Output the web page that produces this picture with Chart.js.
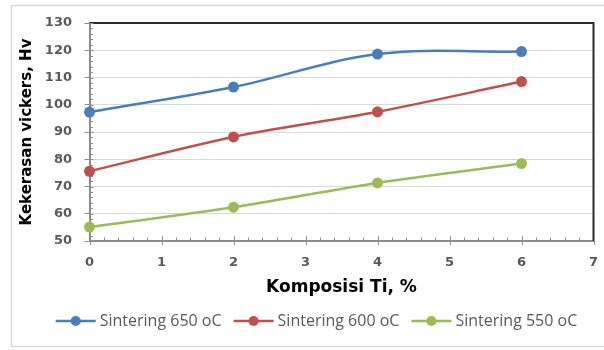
<!DOCTYPE html>
<html><head><meta charset="utf-8">
<script src="https://cdn.jsdelivr.net/npm/chart.js@4.4.1/dist/chart.umd.min.js"></script>
<style>html,body{margin:0;padding:0;background:#fff}canvas{display:block}</style>
</head><body>
<canvas id="c" width="604" height="350"></canvas>
<script>
const komposisiTi = [0, 2, 4, 6];
const sintering650 = [97.3, 106.5, 118.6, 119.5];
const sintering600 = [75.6, 88.2, 97.4, 108.5];
const sintering550 = [55.1, 62.4, 71.3, 78.4];
const seriesLabels = ['Sintering 650 oC', 'Sintering 600 oC', 'Sintering 550 oC'];
const seriesColors = ['#4A7EBB', '#C0504D', '#9BBB59'];
const xTickValues = [0, 1, 2, 3, 4, 5, 6, 7];
const yTickValues = [50, 60, 70, 80, 90, 100, 110, 120, 130];
const xTitle = 'Komposisi Ti, %';
const yTitle = 'Kekerasan vickers, Hv';

const seriesValues = [sintering650, sintering600, sintering550];

const decor = {
  id: 'decor',
  beforeDraw(chart) {
    const ctx = chart.ctx;
    ctx.save();
    ctx.fillStyle = '#fff';
    ctx.fillRect(0, 0, chart.width, chart.height);
    ctx.strokeStyle = '#d9d9d9';
    ctx.lineWidth = 1.5;
    ctx.strokeRect(11.5, 5.5, 640, 341);
    ctx.restore();
  },
  beforeDatasetsDraw(chart) {
    const ctx = chart.ctx;
    const a = chart.chartArea;
    const xs = chart.scales.x, ys = chart.scales.y;
    ctx.save();
    ctx.strokeStyle = '#2b2b2b';
    ctx.lineWidth = 2;
    ctx.beginPath();
    ctx.moveTo(a.left, a.top);
    ctx.lineTo(a.right, a.top);
    ctx.lineTo(a.right, a.bottom);
    ctx.stroke();
    ctx.strokeStyle = '#8c8c8c';
    ctx.lineWidth = 1;
    ctx.beginPath();
    for (let i = 0; i <= 35; i++) {
      const px = Math.round(xs.getPixelForValue(i / 5)) + 0.5;
      if (i % 5 === 0) { ctx.moveTo(px, a.bottom - 5); ctx.lineTo(px, a.bottom + 4); }
      else { ctx.moveTo(px, a.bottom - 3.5); ctx.lineTo(px, a.bottom); }
    }
    for (let i = 0; i <= 40; i++) {
      const py = Math.round(ys.getPixelForValue(50 + i * 2)) + 0.5;
      if (i % 5 === 0) { ctx.moveTo(a.left, py); ctx.lineTo(a.left + 4, py); }
      else { ctx.moveTo(a.left, py); ctx.lineTo(a.left + 3.5, py); }
    }
    ctx.stroke();
    ctx.restore();
  },
  afterDraw(chart) {
    const ctx = chart.ctx;
    ctx.save();
    ctx.font = '16px "Open Sans"';
    ctx.textBaseline = 'middle';
    ctx.textAlign = 'left';
    const ds = chart.data.datasets;
    const widths = ds.map(d => ctx.measureText(d.label).width);
    const lineW = 40, gapLT = 4, gapItem = 12;
    let total = 0;
    widths.forEach(w => total += lineW + gapLT + w);
    total += gapItem * (ds.length - 1);
    let x = 316.5 - total / 2;
    const y = 321;
    ds.forEach((d, i) => {
      ctx.strokeStyle = d.borderColor;
      ctx.lineWidth = 2.5;
      ctx.beginPath();
      ctx.moveTo(x, y);
      ctx.lineTo(x + lineW, y);
      ctx.stroke();
      ctx.fillStyle = d.pointBackgroundColor;
      ctx.beginPath();
      ctx.arc(x + lineW / 2, y, 5, 0, Math.PI * 2);
      ctx.fill();
      ctx.fillStyle = '#595959';
      ctx.fillText(d.label, x + lineW + gapLT, y + 0.5);
      x += lineW + gapLT + widths[i] + gapItem;
    });
    ctx.restore();
  }
};

new Chart(document.getElementById('c'), {
  type: 'line',
  data: {
    datasets: seriesValues.map((vals, i) => ({
      label: seriesLabels[i],
      data: komposisiTi.map((xv, j) => ({ x: xv, y: vals[j] })),
      borderColor: seriesColors[i],
      backgroundColor: seriesColors[i],
      pointBackgroundColor: seriesColors[i],
      pointBorderColor: seriesColors[i],
      pointBorderWidth: 0,
      pointRadius: 5.5,
      borderWidth: 2.5,
      tension: 0.35,
      clip: false,
      fill: false
    }))
  },
  options: {
    responsive: false,
    devicePixelRatio: 1,
    animation: false,
    layout: { padding: { top: 23, right: 10.5, bottom: 52, left: 0 } },
    plugins: {
      legend: { display: false },
      tooltip: { enabled: false },
      title: { display: false }
    },
    scales: {
      x: {
        type: 'linear',
        min: 0, max: 7,
        afterBuildTicks: s => { s.ticks = xTickValues.map(v => ({ value: v })); },
        afterFit: s => { s.height = 57; s.paddingLeft = 0; s.paddingRight = 0; },
        grid: { display: false, drawTicks: false },
        border: { display: true, color: '#8c8c8c', width: 2 },
        ticks: {
          padding: 14,
          color: '#595959',
          font: { family: '"DejaVu Sans"', size: 13, weight: 'bold' },
          maxRotation: 0
        },
        title: {
          display: true,
          text: xTitle,
          color: '#000',
          font: { family: '"DejaVu Sans"', size: 17, weight: 'bold' },
          padding: { top: 0, bottom: 0 }
        }
      },
      y: {
        type: 'linear',
        min: 50, max: 130,
        afterBuildTicks: s => { s.ticks = yTickValues.map(v => ({ value: v })); },
        afterFit: s => { s.width = 89.5; s.paddingTop = 0; s.paddingBottom = 0; },
        grid: { color: '#d9d9d9', lineWidth: 1, drawTicks: true, tickLength: 5, tickColor: '#8c8c8c', tickWidth: 1 },
        border: { display: true, color: '#8c8c8c', width: 2 },
        ticks: {
          padding: 12.5,
          color: '#595959',
          font: { family: '"DejaVu Sans"', size: 13, weight: 'bold' }
        },
        title: {
          display: true,
          text: yTitle,
          color: '#000',
          font: { family: '"DejaVu Sans"', size: 15, weight: 'bold' },
          padding: { top: 18.4, bottom: 0 }
        }
      }
    }
  },
  plugins: [decor]
});
</script>
</body></html>
